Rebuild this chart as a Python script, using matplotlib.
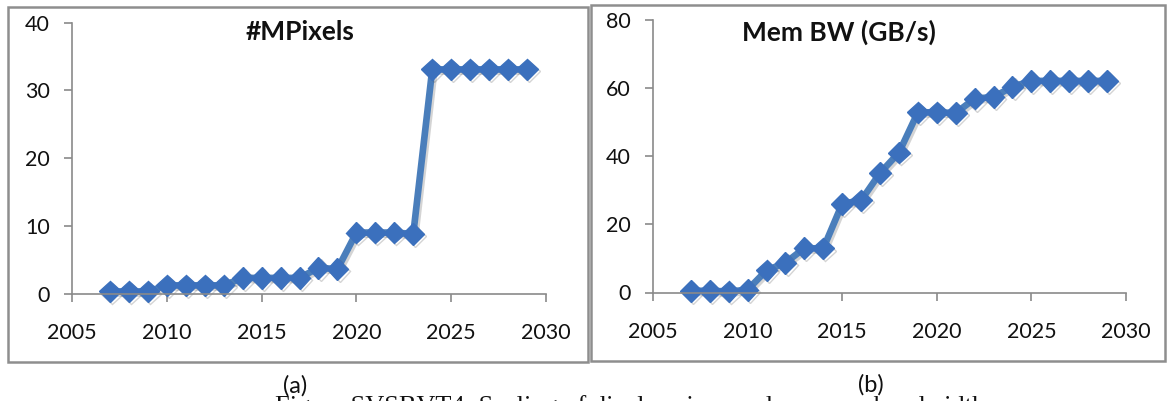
import matplotlib
matplotlib.use("Agg")
import matplotlib.pyplot as plt
import matplotlib.patheffects as pe
from matplotlib.patches import Rectangle

plt.rcParams['font.family'] = ['Lato', 'DejaVu Sans']

years = list(range(2007, 2030))
mpixels = [0.3, 0.3, 0.3, 1.2, 1.2, 1.2, 1.2, 2.3, 2.3, 2.3, 2.3, 3.8, 3.6,
           9.0, 9.0, 9.0, 8.8, 33.1, 33.1, 33.1, 33.1, 33.1, 33.1]
mem_bw = [0.5, 0.5, 0.3, 0.8, 6.5, 8.7, 13.0, 12.9, 26.0, 27.0, 35.0, 41.0, 52.8,
          52.8, 52.6, 56.8, 57.3, 60.3, 62.0, 62.0, 62.0, 62.0, 62.0]
x_ticks = [2005, 2010, 2015, 2020, 2025, 2030]

W, H = 1167, 401
fig = plt.figure(figsize=(W / 100, H / 100), dpi=100)


def px_axes(x0, x1, y_top, y_bot):
    return fig.add_axes([x0 / W, 1 - y_bot / H, (x1 - x0) / W, (y_bot - y_top) / H])


def panel_frame(x0, y0, x1, y1):
    fig.patches.append(Rectangle((x0 / W, 1 - y1 / H), (x1 - x0) / W, (y1 - y0) / H,
                                 transform=fig.transFigure, fill=False,
                                 edgecolor='#8e8e8e', linewidth=1.8))


def draw_series(ax, y, ymax, ystep, title, title_x):
    ax.plot(years, y, color='#4a7ebb', linewidth=4.8, marker='D', markersize=11,
            markerfacecolor='#3b70bd', markeredgecolor='#3b70bd', clip_on=False,
            solid_joinstyle='miter',
            path_effects=[pe.SimpleLineShadow(offset=(1.5, -1.5), shadow_color='#555555', alpha=0.25),
                          pe.Normal()])
    ax.set_xlim(2005, 2030)
    ax.set_ylim(0, ymax)
    ax.set_xticks(x_ticks)
    ax.set_yticks(range(0, ymax + 1, ystep))
    for s in ['top', 'right']:
        ax.spines[s].set_visible(False)
    for s in ['left', 'bottom']:
        ax.spines[s].set_color('#8a8a8a')
        ax.spines[s].set_linewidth(1.2)
    ax.tick_params(axis='both', direction='out', length=6, width=1.2, color='#8a8a8a',
                   labelsize=15.5, labelcolor='#111111')
    ax.tick_params(axis='x', pad=15)
    ax.tick_params(axis='y', pad=10)
    ax.patch.set_alpha(0)
    fig.text(title_x / W, 1 - 32 / H, title, ha='center', va='center',
             fontsize=19, fontweight='bold', color='#111111')


ax1 = px_axes(72, 546, 22.7, 293.5)
draw_series(ax1, mpixels, 40, 10, '#MPixels', 300)
panel_frame(8, 7, 588, 362)

ax2 = px_axes(653, 1126, 19.5, 292.5)
draw_series(ax2, mem_bw, 80, 20, 'Mem BW (GB/s)', 839)
panel_frame(591, 5, 1165, 361)

fig.text(295 / W, 1 - 386 / H, '(a)', ha='center', va='center', fontsize=17, color='#111111')
fig.text(871 / W, 1 - 385 / H, '(b)', ha='center', va='center', fontsize=17, color='#111111')
fig.text(630 / W, 1 - 395 / H, 'Figure SVSBVT4: Scaling of display sizes and memory bandwidth',
         ha='center', va='top', fontsize=19, family='Liberation Serif', color='#111111')

fig.savefig('out.png', dpi=100)
